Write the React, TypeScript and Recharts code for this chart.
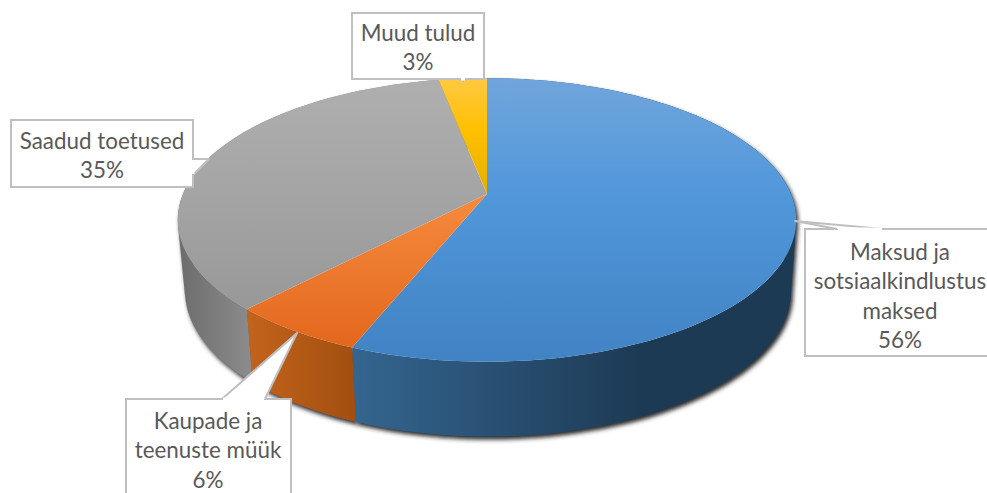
import React from 'react';
import { PieChart, Pie } from 'recharts';

const categories = [
	['Maksud ja', 'sotsiaalkindlustus', 'maksed'],
	['Kaupade ja', 'teenuste müük'],
	['Saadud toetused'],
	['Muud tulud'],
];
const shares = [56, 6, 35, 3];

const data = categories.map((lines, i) => ({ name: lines.join(' '), value: shares[i] }));

const seriesKeys = ['blue', 'orange', 'gray', 'yellow'];

// perspective of the tilted disc: k pushes the apex up from the middle of the ellipse
const TILT = 0.183;
const TOP_RIM = { cx: 487, cy: 194, r: 304, h: 137 };
const BOTTOM_RIM = { cx: 488, cy: 264, r: 298, h: 141 };

// callout boxes, x/y/width/height, the clipped ones run past the page edge
const callouts = [
	{ box: [805, 229, 190, 127], wedge: [[837, 229], [795, 221], [883, 229]], textX: 900, textY: 251 },
	{ box: [126, 399, 165, 110], wedge: [[222, 399], [297, 333], [265, 399]], textX: 208, textY: 420 },
	{ box: [11, 120, 182, 67], wedge: [[193, 159], [209, 159], [193, 175]], textX: 102, textY: 140 },
	{ box: [352, 13, 132, 66], wedge: [[460, 79], [463, 81], [466, 79]], textX: 418, textY: 32 },
];

const rimPoint = (angle: number, rim: typeof TOP_RIM) => {
	const t = ((90 - angle) * Math.PI) / 180;
	const d = 1 + TILT * Math.cos(t);
	return [rim.cx + (rim.r * Math.sin(t)) / d, rim.cy - (rim.h * Math.cos(t)) / d];
};

const rimArc = (start: number, end: number, rim: typeof TOP_RIM) => {
	const steps = Math.max(2, Math.ceil(Math.abs(end - start) / 2));
	const pts = [];
	for (let i = 0; i <= steps; i++) pts.push(rimPoint(start + ((end - start) * i) / steps, rim));
	return pts;
};

const toPath = (pts: number[][]) => 'M' + pts.map((p) => p[0].toFixed(1) + ',' + p[1].toFixed(1)).join('L') + 'Z';

// wall as a strip of quads all wound the same way, so the silhouette between both rims is filled too
const wallPath = (start: number, end: number) => {
	const top = rimArc(start, end, TOP_RIM);
	const bottom = rimArc(start, end, BOTTOM_RIM);
	let d = '';
	for (let i = 0; i < top.length - 1; i++) {
		const quad = [top[i], top[i + 1], bottom[i + 1], bottom[i]];
		let area = 0;
		quad.forEach((p, j) => {
			const q = quad[(j + 1) % 4];
			area += p[0] * q[1] - q[0] * p[1];
		});
		d += toPath(area < 0 ? quad.slice().reverse() : quad);
	}
	return d;
};

const TopFace = (props: any) => {
	const pts = [[TOP_RIM.cx, TOP_RIM.cy], ...rimArc(props.startAngle, props.endAngle, TOP_RIM)];
	return <path d={toPath(pts)} fill={`url(#top-${seriesKeys[props.index]})`} />;
};

const WallFace = (props: any) => {
	return <path d={wallPath(props.startAngle, props.endAngle)} fill={`url(#wall-${seriesKeys[props.index]})`} />;
};

const ShadowFace = (props: any) => {
	return <path d={wallPath(props.startAngle, props.endAngle)} fill="#2a2a2a" transform="translate(2,3)" filter="url(#rim-blur)" />;
};

const Callout = (props: any) => {
	const c = callouts[props.index];
	if (!c) return null;
	const [x, y, w, h] = c.box;
	const lines = [...categories[props.index], shares[props.index] + '%'];
	const baseY = c.wedge[0][1];
	return (
		<g>
			<rect x={x} y={y} width={w} height={h} fill="#fff" stroke="#bfbfbf" strokeWidth={2} />
			<path d={'M' + c.wedge.map((p) => p.join(',')).join('L')} fill="#fff" stroke="#bfbfbf" strokeWidth={2} strokeLinejoin="round" />
			{props.index === 2 ? (
				<line x1={193} y1={160} x2={193} y2={174} stroke="#fff" strokeWidth={3} />
			) : (
				<line x1={c.wedge[0][0] + 1} y1={baseY} x2={c.wedge[2][0] - 1} y2={baseY} stroke="#fff" strokeWidth={3} />
			)}
			{lines.map((line, i) => (
				<text
					key={line}
					x={c.textX}
					y={c.textY + i * 29.5}
					textAnchor="middle"
					dominantBaseline="central"
					fontFamily="Lato, sans-serif"
					fontSize={22.4}
					fill="#595959"
				>
					{line}
				</text>
			))}
		</g>
	);
};

const vertical = (id: string, stops: [number, string][]) => (
	<linearGradient id={id} gradientUnits="userSpaceOnUse" x1={0} y1={78} x2={0} y2={365}>
		{stops.map(([o, c]) => (
			<stop key={o} offset={o} stopColor={c} />
		))}
	</linearGradient>
);

const horizontal = (id: string, x1: number, x2: number, from: string, to: string) => (
	<linearGradient id={id} gradientUnits="userSpaceOnUse" x1={x1} y1={0} x2={x2} y2={0}>
		<stop offset={0} stopColor={from} />
		<stop offset={1} stopColor={to} />
	</linearGradient>
);

const App = () => {
	return (
		<div style={{ position: 'absolute', left: 0, top: 0 }}>
			<PieChart width={987} height={493} margin={{ top: 0, right: 0, bottom: 0, left: 0 }}>
				<defs>
					{vertical('top-blue', [[0, '#70a5dc'], [0.42, '#5097da'], [1, '#4182c3']])}
					{vertical('top-orange', [[0, '#f8a060'], [0.42, '#f58a3c'], [1, '#e1631a']])}
					{vertical('top-gray', [[0, '#afafaf'], [0.42, '#a4a4a4'], [1, '#929292']])}
					{vertical('top-yellow', [[0, '#ffc944'], [0.18, '#ffc000'], [0.42, '#e6ad00'], [1, '#e6ad00']])}
					{horizontal('wall-blue', 356, 640, '#34658f', '#1d3a55')}
					{horizontal('wall-orange', 250, 356, '#c2631c', '#a24e10')}
					{horizontal('wall-gray', 180, 250, '#6d6d6d', '#8b8b8b')}
					{horizontal('wall-yellow', 440, 487, '#bf9000', '#bf9000')}
					<filter id="rim-blur" x="-20%" y="-20%" width="140%" height="140%">
						<feGaussianBlur stdDeviation={2} />
					</filter>
				</defs>
				<Pie data={data} dataKey="value" cx={487} cy={194} outerRadius={304} startAngle={90} endAngle={-270} shape={ShadowFace} isAnimationActive={false} />
				<Pie data={data} dataKey="value" cx={487} cy={194} outerRadius={304} startAngle={90} endAngle={-270} shape={WallFace} isAnimationActive={false} />
				<Pie data={data} dataKey="value" cx={487} cy={194} outerRadius={304} startAngle={90} endAngle={-270} shape={TopFace} label={Callout} labelLine={false} isAnimationActive={false} />
			</PieChart>
		</div>
	);
};

export default App;
